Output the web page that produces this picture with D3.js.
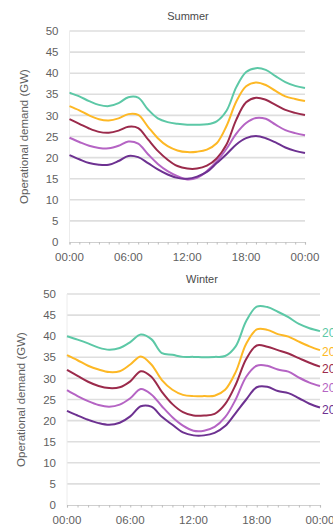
<!DOCTYPE html>
<html>
<head>
<meta charset="utf-8">
<script src="https://cdn.jsdelivr.net/npm/d3@7"></script>
<style>
  html, body { margin: 0; padding: 0; background: #fff; overflow: hidden; }
  svg { display: block; font-family: "Liberation Sans", Arial, sans-serif; }
</style>
</head>
<body>
<svg id="chart" width="333" height="530"></svg>
<script>
// Hour of day for each reading (00:00 .. 24:00)
const hours = d3.range(0, 25);

const seriesNames = ["2020", "2025", "2030", "2035", "2040"];
const seriesColors = ["#5cc8a6", "#fdb825", "#9b2a4b", "#b564c4", "#6d3191"];

// Summer operational demand (GW), hourly
const summer2020 = [35.4, 34.5, 33.4, 32.5, 32.2, 32.9, 34.3, 34.2, 31.4, 29.3, 28.4, 28.0, 27.8, 27.8, 27.9, 28.6, 31.1, 36.7, 40.3, 41.2, 40.8, 39.3, 37.9, 37.0, 36.5];
const summer2025 = [32.2, 31.2, 30.0, 29.1, 28.8, 29.3, 30.3, 30.1, 27.3, 24.6, 22.7, 21.7, 21.3, 21.4, 21.9, 23.4, 27.5, 33.3, 36.9, 37.8, 37.2, 35.8, 34.5, 33.9, 33.4];
const summer2030 = [29.1, 28.0, 26.9, 26.1, 25.9, 26.4, 27.3, 27.0, 24.3, 21.6, 19.5, 18.0, 17.4, 17.4, 18.1, 19.8, 23.1, 29.0, 33.1, 34.2, 33.7, 32.5, 31.3, 30.6, 30.1];
const summer2035 = [24.7, 23.7, 22.8, 22.3, 22.2, 22.8, 23.8, 23.3, 20.8, 18.5, 16.8, 15.6, 14.8, 15.2, 16.8, 19.1, 22.1, 25.7, 28.2, 29.4, 29.2, 27.8, 26.5, 25.8, 25.3];
const summer2040 = [20.6, 19.6, 18.7, 18.3, 18.3, 19.2, 20.4, 20.1, 18.7, 17.2, 16.0, 15.2, 15.0, 15.5, 16.6, 18.7, 20.8, 23.1, 24.6, 25.1, 24.6, 23.6, 22.4, 21.6, 21.1];

// Winter operational demand (GW), hourly
const winter2020 = [40.0, 39.2, 38.3, 37.3, 36.8, 37.2, 38.6, 40.4, 39.3, 36.0, 35.6, 35.1, 35.1, 35.0, 35.1, 35.3, 37.6, 43.6, 47.0, 46.9, 45.8, 44.5, 42.9, 41.9, 41.2];
const winter2025 = [35.5, 34.3, 33.0, 32.1, 31.5, 31.7, 33.3, 35.2, 33.3, 29.6, 27.3, 26.1, 25.8, 25.8, 25.9, 27.3, 31.5, 38.2, 41.6, 41.5, 40.5, 39.9, 38.7, 37.6, 36.7];
const winter2030 = [32.0, 30.6, 29.2, 28.2, 27.7, 27.9, 29.3, 31.7, 30.4, 26.8, 23.9, 22.0, 21.2, 21.2, 21.6, 23.9, 28.5, 34.6, 37.8, 37.5, 36.7, 35.9, 34.8, 33.7, 32.8];
const winter2035 = [27.2, 25.8, 24.6, 23.7, 23.3, 23.8, 25.3, 27.5, 26.2, 23.4, 20.8, 18.8, 17.6, 17.6, 18.5, 20.8, 25.0, 30.4, 33.0, 33.0, 32.1, 31.6, 30.2, 29.0, 28.2];
const winter2040 = [22.3, 21.2, 20.2, 19.4, 19.0, 19.5, 21.0, 23.4, 23.3, 20.9, 19.0, 17.2, 16.5, 16.5, 17.1, 18.7, 21.8, 25.0, 27.9, 28.0, 27.0, 26.5, 25.3, 24.0, 23.1];

const yTicks = [0, 5, 10, 15, 20, 25, 30, 35, 40, 45, 50];
const xTickHours = [0, 6, 12, 18, 24];
const xTickLabels = ["00:00", "06:00", "12:00", "18:00", "00:00"];

const svg = d3.select("#chart");

function drawPanel(opts) {
  const { title, series, left, right, top, bottom, titleX, titleY, yLabelX, showLegend } = opts;

  const x = d3.scaleLinear().domain([0, 24]).range([left, right]);
  const y = d3.scaleLinear().domain([0, 50]).range([bottom, top]);

  const g = svg.append("g");

  // horizontal gridlines
  g.append("g")
    .selectAll("line")
    .data(yTicks.filter(v => v > 0))
    .join("line")
    .attr("x1", left).attr("x2", right)
    .attr("y1", d => y(d)).attr("y2", d => y(d))
    .attr("stroke", "#dedede")
    .attr("stroke-width", 1.6);

  // left axis line
  g.append("line")
    .attr("x1", left).attr("x2", left)
    .attr("y1", top).attr("y2", bottom)
    .attr("stroke", "#ececec")
    .attr("stroke-width", 1);

  // bottom axis with hourly minor ticks
  const xAxis = d3.axisBottom(x)
    .tickValues(hours)
    .tickSize(2.5)
    .tickFormat("");
  const ax = g.append("g").attr("transform", `translate(0,${bottom})`).call(xAxis);
  ax.select(".domain").attr("stroke", "#cfcfcf").attr("stroke-width", 1.2);
  ax.selectAll(".tick line").attr("stroke", "#bdbdbd").attr("stroke-width", 1);

  // x tick labels
  g.append("g")
    .selectAll("text")
    .data(xTickHours)
    .join("text")
    .attr("x", d => x(d))
    .attr("y", bottom + 19)
    .attr("text-anchor", "middle")
    .attr("font-size", 11.5)
    .attr("fill", "#5f5f5f")
    .text((d, i) => xTickLabels[i]);

  // y tick labels
  g.append("g")
    .selectAll("text")
    .data(yTicks)
    .join("text")
    .attr("x", left - 11)
    .attr("y", d => y(d))
    .attr("dy", "0.36em")
    .attr("text-anchor", "end")
    .attr("font-size", 11.5)
    .attr("fill", "#5f5f5f")
    .text(d => d);

  // y axis title
  g.append("text")
    .attr("transform", `translate(${yLabelX},${(top + bottom) / 2}) rotate(-90)`)
    .attr("text-anchor", "middle")
    .attr("font-size", 11.5)
    .attr("fill", "#5f5f5f")
    .text("Operational demand (GW)");

  // panel title
  g.append("text")
    .attr("x", titleX)
    .attr("y", titleY)
    .attr("text-anchor", "middle")
    .attr("font-size", 11)
    .attr("fill", "#4a4a4a")
    .text(title);

  const line = d3.line()
    .x((d, i) => x(hours[i]))
    .y(d => y(d))
    .curve(d3.curveCatmullRom.alpha(0.5));

  g.append("g")
    .selectAll("path")
    .data(series)
    .join("path")
    .attr("d", d => line(d))
    .attr("fill", "none")
    .attr("stroke", (d, i) => seriesColors[i])
    .attr("stroke-width", 2)
    .attr("stroke-linejoin", "round");

  if (showLegend) {
    g.append("g")
      .selectAll("text")
      .data(series)
      .join("text")
      .attr("x", right + 2)
      .attr("y", d => y(d[d.length - 1]))
      .attr("dy", "0.5em")
      .attr("font-size", 12)
      .attr("fill", (d, i) => seriesColors[i])
      .text((d, i) => seriesNames[i]);
  }
}

drawPanel({
  title: "Summer",
  series: [summer2020, summer2025, summer2030, summer2035, summer2040],
  left: 69.5, right: 305, top: 31, bottom: 242,
  titleX: 188, titleY: 20, yLabelX: 28, showLegend: false
});

drawPanel({
  title: "Winter",
  series: [winter2020, winter2025, winter2030, winter2035, winter2040],
  left: 67, right: 320, top: 294, bottom: 505,
  titleX: 202, titleY: 283, yLabelX: 25, showLegend: true
});
</script>
</body>
</html>
